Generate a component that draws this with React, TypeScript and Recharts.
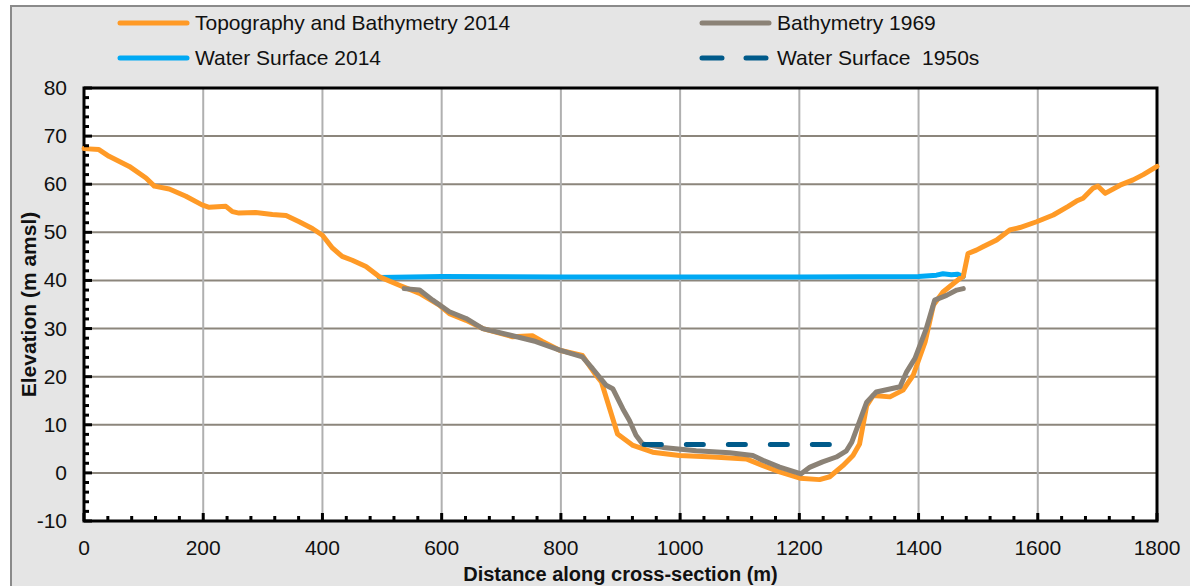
import {
  CartesianGrid,
  Label,
  Line,
  LineChart,
  ReferenceArea,
  XAxis,
  YAxis,
} from "recharts";

const FONT = '"Liberation Sans", Arial, sans-serif';

// [distance (m), elevation (m amsl)]
const topo2014 = [
  [0, 67.4], [25, 67.2], [42, 65.8], [76, 63.7], [104, 61.3], [118, 59.6], [143, 59.0],
  [171, 57.5], [198, 55.7], [210, 55.2], [238, 55.4], [249, 54.3], [260, 54.0], [288, 54.1],
  [316, 53.7], [339, 53.5], [361, 52.2], [383, 50.8], [400, 49.4], [417, 46.7], [433, 45.0],
  [450, 44.2], [473, 42.9], [495, 40.8], [529, 39.0], [563, 37.3], [596, 34.9], [613, 33.1],
  [641, 31.7], [669, 30.0], [719, 28.3], [752, 28.5], [769, 27.3], [798, 25.5], [836, 24.4],
  [859, 20.3], [868, 18.9], [882, 13.3], [895, 8.1], [921, 5.7], [954, 4.3], [999, 3.6],
  [1055, 3.3], [1111, 2.9], [1139, 1.5], [1167, 0.2], [1201, -1.1], [1234, -1.4], [1251, -0.8],
  [1273, 1.5], [1290, 3.6], [1301, 6.0], [1313, 14.0], [1324, 16.1], [1352, 15.8], [1374, 17.2],
  [1391, 20.3], [1411, 27.2], [1425, 34.9], [1441, 37.6], [1469, 40.4], [1475, 40.8],
  [1483, 45.6], [1497, 46.3], [1508, 47.0], [1531, 48.4], [1553, 50.5], [1570, 51.0],
  [1598, 52.2], [1626, 53.6], [1651, 55.4], [1665, 56.5], [1676, 57.1], [1693, 59.2],
  [1701, 59.6], [1713, 58.1], [1738, 59.8], [1760, 60.9], [1777, 62.0], [1800, 63.7],
];

const bathy1969 = [
  [537, 38.3], [563, 38.0], [585, 35.9], [613, 33.5], [641, 32.1], [669, 30.0], [719, 28.5],
  [758, 27.3], [798, 25.5], [836, 24.1], [853, 21.7], [876, 18.2], [887, 17.5], [904, 13.3],
  [915, 10.9], [926, 7.8], [937, 6.0], [971, 5.3], [1027, 4.6], [1083, 4.2], [1122, 3.6],
  [1139, 2.6], [1167, 1.2], [1203, -0.2], [1218, 1.2], [1239, 2.3], [1262, 3.3], [1279, 4.6],
  [1288, 6.4], [1313, 14.7], [1329, 16.8], [1369, 17.9], [1380, 21.0], [1394, 23.8],
  [1413, 30.0], [1427, 35.9], [1447, 36.9], [1464, 38.0], [1475, 38.3],
];

const water2014 = [
  [495, 40.6], [600, 40.8], [800, 40.7], [1000, 40.7], [1200, 40.7], [1400, 40.8],
  [1430, 41.1], [1441, 41.4], [1455, 41.2], [1465, 41.3], [1475, 40.8],
];

const water1950s = [
  [940, 5.9], [1262, 5.9],
];

const xMajor = [0, 200, 400, 600, 800, 1000, 1200, 1400, 1600, 1800];
const yMajor = [-10, 0, 10, 20, 30, 40, 50, 60, 70, 80];
const xMinor = Array.from({ length: 46 }, (_, i) => i * 40);
const yMinor = Array.from({ length: 46 }, (_, i) => -10 + i * 2);

const toPoints = (rows: number[][]) => rows.map(([x, y]) => ({ x, y }));

const series = [
  { key: "ws2014", name: "Water Surface 2014", color: "#00a9f4", data: water2014, dash: undefined },
  { key: "topo", name: "Topography and Bathymetry 2014", color: "#ff9a26", data: topo2014, dash: undefined },
  { key: "b1969", name: "Bathymetry 1969", color: "#8b8276", data: bathy1969, dash: undefined },
  { key: "ws1950", name: "Water Surface  1950s", color: "#005a8a", data: water1950s, dash: "17 25" },
];

const legendRows = [
  ["topo", "b1969"],
  ["ws2014", "ws1950"],
];

function XTick({ x, y, payload }: any) {
  const v = payload.value;
  const major = v % 200 === 0;
  return (
    <g>
      <line x1={x} x2={x} y1={y} y2={y - (major ? 8 : 5)} stroke="#000" strokeWidth={3} />
      {major && (
        <text x={x} y={y + 34} textAnchor="middle" fontSize={21} fontFamily={FONT} fill="#111">
          {v}
        </text>
      )}
    </g>
  );
}

function YTick({ x, y, payload }: any) {
  const v = payload.value;
  const major = v % 10 === 0;
  return (
    <g>
      <line x1={x} x2={x + (major ? 8 : 5)} y1={y} y2={y} stroke="#000" strokeWidth={3} />
      {major && (
        <text x={x - 17} y={y + 7} textAnchor="end" fontSize={21} fontFamily={FONT} fill="#111">
          {v}
        </text>
      )}
    </g>
  );
}

function Legend() {
  const cols = [117, 699];
  return (
    <>
      {legendRows.map((row, r) =>
        row.map((k, c) => {
          const s = series.find((d) => d.key === k)!;
          const top = r === 0 ? 23 : 58;
          return (
            <div key={k} style={{ position: "absolute", left: cols[c], top: top - 14, height: 28, display: "flex", alignItems: "center" }}>
              <svg width={74} height={28}>
                <line
                  x1={3}
                  x2={70}
                  y1={14}
                  y2={14}
                  stroke={s.color}
                  strokeWidth={5}
                  strokeLinecap="round"
                  strokeDasharray={s.dash ? "20 24" : undefined}
                />
              </svg>
              <span style={{ fontFamily: FONT, fontSize: 21, color: "#111", marginLeft: 4, whiteSpace: "pre" }}>
                {s.name}
              </span>
            </div>
          );
        })
      )}
    </>
  );
}

export default function App() {
  return (
    <div style={{ position: "absolute", left: 0, top: 0, width: 1190, height: 586, overflow: "hidden", background: "#fff" }}>
      <div
        style={{
          position: "absolute",
          left: 10,
          top: 5,
          width: 1200,
          height: 600,
          background: "#e5e5e5",
          border: "2px solid #8a8a8a",
        }}
      />
      <Legend />
      <div style={{ position: "absolute", left: 0, top: 0 }}>
        <LineChart width={1190} height={586} margin={{ top: 88, right: 33, bottom: 35, left: 34 }}>
          <CartesianGrid fill="#fff" vertical={false} horizontalValues={yMajor} stroke="#8c867c" strokeWidth={2} />
          <CartesianGrid horizontal={false} verticalValues={xMajor} stroke="#b0b0b0" strokeWidth={2} />
          <XAxis
            dataKey="x"
            type="number"
            domain={[0, 1800]}
            ticks={xMinor}
            interval={0}
            allowDuplicatedCategory={false}
            height={30}
            axisLine={false}
            tickLine={false}
            tickSize={0}
            tickMargin={0}
            tick={<XTick />}
          >
            <Label
              content={({ viewBox }: any) => (
                <text
                  x={viewBox.x + viewBox.width / 2}
                  y={viewBox.y + 60}
                  textAnchor="middle"
                  fontSize={20}
                  fontWeight="bold"
                  fontFamily={FONT}
                  fill="#111"
                >
                  Distance along cross-section (m)
                </text>
              )}
            />
          </XAxis>
          <YAxis
            type="number"
            domain={[-10, 80]}
            ticks={yMinor}
            interval={0}
            width={50}
            axisLine={false}
            tickLine={false}
            tickSize={0}
            tickMargin={0}
            tick={<YTick />}
          >
            <Label
              content={({ viewBox }: any) => {
                const cx = 28;
                const cy = viewBox.y + viewBox.height / 2;
                return (
                  <text
                    x={cx}
                    y={cy}
                    transform={`rotate(-90 ${cx} ${cy})`}
                    textAnchor="middle"
                    dominantBaseline="central"
                    fontSize={21}
                    fontWeight="bold"
                    fontFamily={FONT}
                    fill="#111"
                  >
                    Elevation (m amsl)
                  </text>
                );
              }}
            />
          </YAxis>
          {series.map((s) => (
            <Line
              key={s.key}
              data={toPoints(s.data)}
              dataKey="y"
              name={s.name}
              type="linear"
              stroke={s.color}
              strokeWidth={5}
              strokeDasharray={s.dash}
              strokeLinecap="round"
              strokeLinejoin="round"
              dot={false}
              activeDot={false}
              isAnimationActive={false}
            />
          ))}
          <ReferenceArea x1={0} x2={1800} y1={-10} y2={80} fill="none" stroke="#000" strokeWidth={3} />
        </LineChart>
      </div>
    </div>
  );
}
